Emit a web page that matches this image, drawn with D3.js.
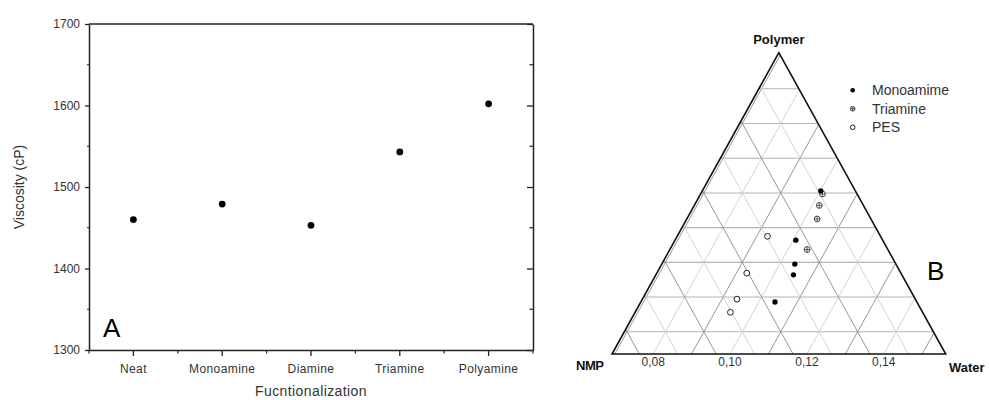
<!DOCTYPE html>
<html>
<head>
<meta charset="utf-8">
<script src="https://cdn.jsdelivr.net/npm/d3@7"></script>
<style>
  html, body { margin: 0; padding: 0; background: #fff; }
  svg { display: block; font-family: "Liberation Sans", Arial, sans-serif; }
</style>
</head>
<body>
<svg id="chart" width="989" height="400"></svg>
<script>
// ---------- Panel A data ----------
const categories = ["Neat", "Monoamine", "Diamine", "Triamine", "Polyamine"];
const viscosity = [1460, 1479, 1453, 1543, 1602];
const yTicks = [1300, 1400, 1500, 1600, 1700];
const yMinorTicks = [1350, 1450, 1550, 1650];

// ---------- Panel B data (mass fractions: water, polymer; NMP = rest) ----------
const monoWater   = [0.1001, 0.1007, 0.1039, 0.1051, 0.1042];
const monoPolymer = [0.1206, 0.1064, 0.0995, 0.0964, 0.0886];
const triWater    = [0.1010, 0.1018, 0.1032, 0.1050];
const triPolymer  = [0.1197, 0.1164, 0.1125, 0.1037];
const pesWater    = [0.0928, 0.0927, 0.0939, 0.0941];
const pesPolymer  = [0.1075, 0.0969, 0.0894, 0.0856];
const waterTickLabels = [0.08, 0.10, 0.12, 0.14];
const legendLabels = ["Monoamime", "Triamine", "PES"];

const svg = d3.select("#chart");
const ink = "#222";
const txt = "#333";

// ================= Panel A =================
const A = { left: 89, right: 533, top: 24, bottom: 350 };
const x = d3.scaleBand().domain(categories).range([A.left, A.right]).paddingInner(0).paddingOuter(0);
const y = d3.scaleLinear().domain([1300, 1700]).range([A.bottom, A.top]);
const gA = svg.append("g");

gA.append("line").attr("x1", A.left).attr("x2", A.right).attr("y1", A.top).attr("y2", A.top)
  .attr("stroke", ink).attr("stroke-width", 1.5);

const yAxisL = gA.append("g").attr("transform", `translate(${A.left},0)`)
  .call(d3.axisLeft(y).tickValues(yTicks).tickSize(4).tickSizeOuter(0).tickPadding(5).tickFormat(d3.format("d")));
yAxisL.select(".domain").attr("stroke", ink).attr("stroke-width", 1.5);
yAxisL.selectAll(".tick line").attr("stroke", ink).attr("stroke-width", 1.3);
yAxisL.selectAll(".tick text").attr("fill", txt).style("font-size", "12px").style("font-family", "Liberation Sans, Arial, sans-serif");
yAxisL.selectAll(".minor").data(yMinorTicks).enter().append("line")
  .attr("x1", -2).attr("x2", 0).attr("y1", d => y(d)).attr("y2", d => y(d))
  .attr("stroke", ink).attr("stroke-width", 1.2);

const yAxisR = gA.append("g").attr("transform", `translate(${A.right},0)`)
  .call(d3.axisLeft(y).tickValues(yTicks).tickSize(6).tickSizeOuter(0).tickFormat(""));
yAxisR.select(".domain").attr("stroke", ink).attr("stroke-width", 1.5);
yAxisR.selectAll(".tick line").attr("stroke", ink).attr("stroke-width", 1.3);
yAxisR.selectAll(".minor").data(yMinorTicks).enter().append("line")
  .attr("x1", -3.5).attr("x2", 0).attr("y1", d => y(d)).attr("y2", d => y(d))
  .attr("stroke", ink).attr("stroke-width", 1.2);

const xAxis = gA.append("g").attr("transform", `translate(0,${A.bottom})`)
  .call(d3.axisBottom(x).tickSize(6).tickSizeOuter(0).tickPadding(8));
xAxis.select(".domain").attr("stroke", ink).attr("stroke-width", 1.5);
xAxis.selectAll(".tick line").attr("stroke", ink).attr("stroke-width", 1.3);
xAxis.selectAll(".tick text").attr("fill", txt).style("font-size", "12px")
  .style("letter-spacing", "0.4px").style("font-family", "Liberation Sans, Arial, sans-serif");
const bandEdges = categories.map(c => x(c)).concat([x(categories[categories.length - 1]) + x.bandwidth()]);
xAxis.selectAll(".minor").data(bandEdges).enter().append("line")
  .attr("x1", d => d).attr("x2", d => d).attr("y1", 0).attr("y2", 3.5)
  .attr("stroke", ink).attr("stroke-width", 1.2);

gA.selectAll("circle.pt").data(viscosity).enter().append("circle")
  .attr("class", "pt")
  .attr("cx", (d, i) => x(categories[i]) + x.bandwidth() / 2)
  .attr("cy", d => y(d))
  .attr("r", 3.4).attr("fill", "#000");

gA.append("text").attr("transform", `translate(24,${(A.top + A.bottom) / 2}) rotate(-90)`)
  .attr("text-anchor", "middle").attr("fill", txt).style("font-size", "14px").text("Viscosity (cP)");
gA.append("text").attr("x", (A.left + A.right) / 2).attr("y", 396)
  .attr("text-anchor", "middle").attr("fill", txt).style("font-size", "14px").style("letter-spacing", "0.4px")
  .text("Fucntionalization");
gA.append("text").attr("x", 103).attr("y", 337).attr("fill", "#000").style("font-size", "26px").text("A");

// ================= Panel B (ternary) =================
const T = { left: 612, right: 945.7, top: 52.7, bottom: 354 };
const R = 0.0868;
const W0 = 0.0693;
const P0 = 0.0736;
const N0 = 1 - R - W0 - P0;
const wScale = d3.scaleLinear().domain([W0, W0 + R]).range([0, 1]);
const pScale = d3.scaleLinear().domain([P0, P0 + R]).range([0, 1]);
const xBase = d3.scaleLinear().domain([0, 1]).range([T.left, T.right]);
const yBase = d3.scaleLinear().domain([0, 1]).range([T.bottom, T.top]);
function pos(w, p) {
  const wn = wScale(w), pn = pScale(p);
  return [xBase(wn + pn / 2), yBase(pn)];
}
const gB = svg.append("g");

const gridP = d3.range(0.08, P0 + R - 0.001, 0.01).map(v => +v.toFixed(2));
const gridW = d3.range(0.07, W0 + R - 0.001, 0.01).map(v => +v.toFixed(2));
const gridN = d3.range(0.78, N0 + R - 0.001, 0.01).map(v => +v.toFixed(2));
const gridG = gB.append("g");
gridP.forEach(v => {
  const a = pos(W0, v), b = pos(W0 + R - (v - P0), v);
  gridG.append("line").attr("x1", a[0]).attr("y1", a[1]).attr("x2", b[0]).attr("y2", b[1])
    .attr("stroke", "#b4b4b4").attr("stroke-width", 1.1);
});
gridW.forEach((v, i) => {
  const a = pos(v, P0), b = pos(v, P0 + R - (v - W0));
  gridG.append("line").attr("x1", a[0]).attr("y1", a[1]).attr("x2", b[0]).attr("y2", b[1])
    .attr("stroke", i % 2 ? "#cfcfcf" : "#8c8c8c").attr("stroke-width", 0.9);
});
gridN.forEach((v, i) => {
  const a = pos(1 - v - P0, P0), b = pos(W0, 1 - v - W0);
  gridG.append("line").attr("x1", a[0]).attr("y1", a[1]).attr("x2", b[0]).attr("y2", b[1])
    .attr("stroke", i % 2 ? "#8c8c8c" : "#cfcfcf").attr("stroke-width", 0.9);
});

const corners = [pos(W0, P0), pos(W0 + R, P0), pos(W0, P0 + R)];
gB.append("polygon").attr("points", corners.map(c => c.join(",")).join(" "))
  .attr("fill", "none").attr("stroke", "#111").attr("stroke-width", 1.6);

gB.selectAll("text.wt").data(waterTickLabels).enter().append("text")
  .attr("class", "wt")
  .attr("x", d => pos(d, P0)[0]).attr("y", 366)
  .attr("text-anchor", "middle").attr("fill", txt).style("font-size", "12px")
  .text(d => d3.format(".2f")(d).replace(".", ","));

gB.append("text").attr("x", corners[2][0]).attr("y", 44).attr("text-anchor", "middle")
  .attr("fill", "#111").style("font-size", "13px").style("font-weight", "bold").text("Polymer");
gB.append("text").attr("x", 576).attr("y", 370).attr("fill", "#111")
  .style("font-size", "13px").style("font-weight", "bold").style("letter-spacing", "-0.5px").text("NMP");
gB.append("text").attr("x", 949).attr("y", 372).attr("fill", "#111")
  .style("font-size", "13px").style("font-weight", "bold").text("Water");
gB.append("text").attr("x", 927).attr("y", 280).attr("fill", "#000").style("font-size", "26px").text("B");

function drawMarker(g, cx, cy, type, r) {
  if (type === 0) {
    g.append("circle").attr("cx", cx).attr("cy", cy).attr("r", r).attr("fill", "#000");
  } else if (type === 1) {
    g.append("circle").attr("cx", cx).attr("cy", cy).attr("r", r).attr("fill", "#fff")
      .attr("stroke", "#333").attr("stroke-width", 0.9);
    g.append("line").attr("x1", cx - r).attr("x2", cx + r).attr("y1", cy).attr("y2", cy)
      .attr("stroke", "#333").attr("stroke-width", 0.8);
    g.append("line").attr("x1", cx).attr("x2", cx).attr("y1", cy - r).attr("y2", cy + r)
      .attr("stroke", "#333").attr("stroke-width", 0.8);
  } else {
    g.append("circle").attr("cx", cx).attr("cy", cy).attr("r", r).attr("fill", "#fff")
      .attr("stroke", "#222").attr("stroke-width", 1);
  }
}
const series = [
  { w: pesWater, p: pesPolymer, type: 2 },
  { w: triWater, p: triPolymer, type: 1 },
  { w: monoWater, p: monoPolymer, type: 0 }
];
const gPts = gB.append("g");
series.forEach(s => {
  s.w.forEach((w, i) => {
    const [cx, cy] = pos(w, s.p[i]);
    drawMarker(gPts, cx, cy, s.type, s.type === 0 ? 2.7 : 2.9);
  });
});

const legY = d3.scalePoint().domain(legendLabels).range([90.3, 127.3]);
const gL = gB.append("g");
legendLabels.forEach((lab, i) => {
  drawMarker(gL, 852.7, legY(lab), i === 0 ? 0 : (i === 1 ? 1 : 2), 2.3);
  gL.append("text").attr("x", 872).attr("y", legY(lab) + 5).attr("fill", txt)
    .style("font-size", "14px").text(lab);
});
</script>
</body>
</html>
